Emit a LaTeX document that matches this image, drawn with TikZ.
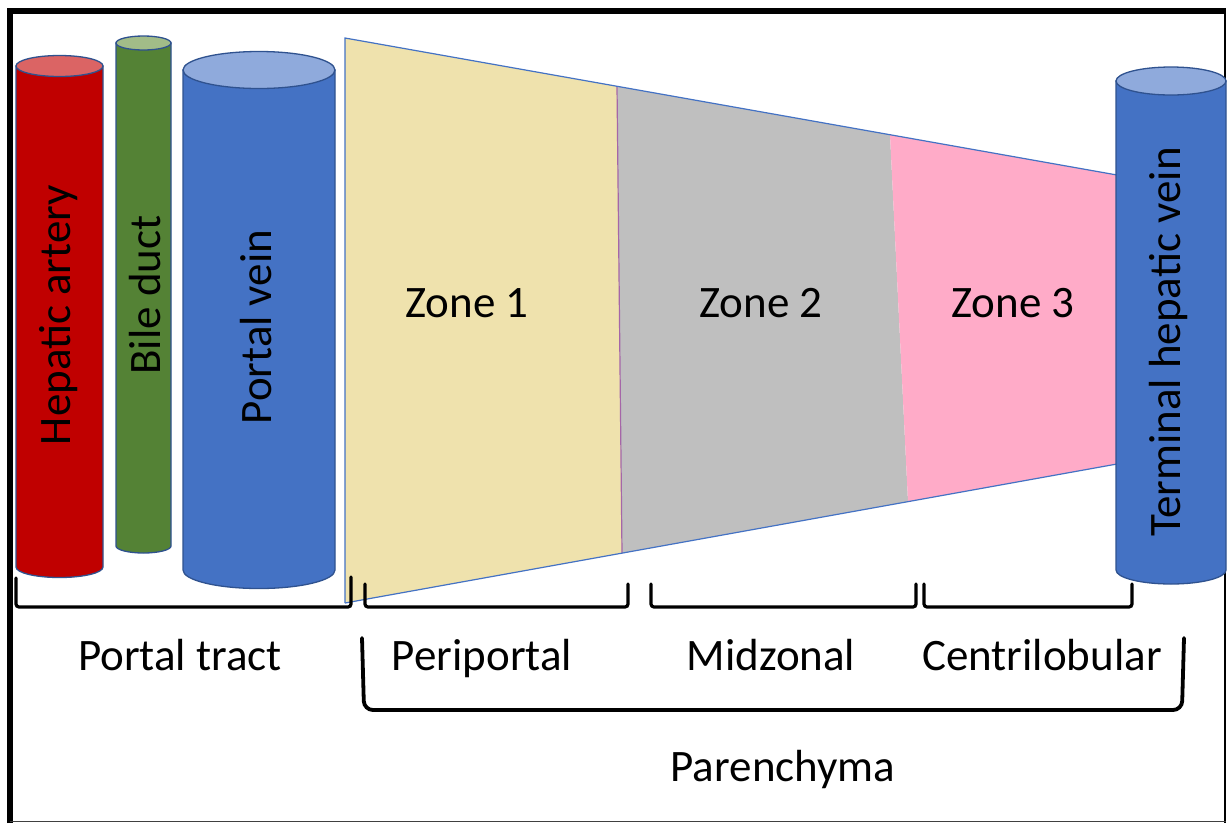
\documentclass[tikz,border=0pt]{standalone}
\usepackage{fontspec}
\setmainfont{Carlito}
\definecolor{cylline}{HTML}{2F528F}
\definecolor{artred}{HTML}{C00000}
\definecolor{arttop}{HTML}{DB6464}
\definecolor{bilegreen}{HTML}{548235}
\definecolor{biletop}{HTML}{A2BC88}
\definecolor{veinblue}{HTML}{4472C4}
\definecolor{veintop}{HTML}{8FAADC}
\definecolor{zoneA}{HTML}{EFE2AD}
\definecolor{zoneB}{HTML}{BFBFBF}
\definecolor{zoneC}{HTML}{FFABC8}
\definecolor{zoneedge}{HTML}{A566A8}
\newcommand\mycyl[7]{%
  \draw[cylbody, fill=#6] ({#1-#2},#3) -- ({#1-#2},#4)
     arc[start angle=180, end angle=0, x radius=#2, y radius=#5]
     -- ({#1+#2},#3) -- cycle;
  \draw[cylbody, fill=#7] (#1,#3) ellipse[x radius=#2, y radius=#5];
}
\begin{document}
\begin{tikzpicture}[x=1pt,y=-1pt,
  cylbody/.style={draw=cylline, line width=1.3pt},
  lbl/.style={font=\fontsize{45}{54}\selectfont, inner sep=0pt, text=black},
  blbl/.style={lbl, anchor=base},
  brk/.style={draw=black, line width=3.2pt, rounded corners=3pt, line cap=round},
  bigbrk/.style={draw=black, line width=3.8pt, rounded corners=9pt, line cap=round},
  trapedge/.style={draw=veinblue, line width=1.2pt}]
\useasboundingbox (0,0) rectangle (1228,823);
\fill[white] (0,0) rectangle (1228,823);
% frame
\draw[line width=6pt] (10,823) -- (10,11) -- (1226,11);
\draw[line width=2.2pt] (1225,8) -- (1225,823);
\draw[line width=1.5pt, black!75] (10,821.5) -- (1226,821.5);
% cylinders left
\mycyl{59.5}{43.5}{66}{567}{10.5}{artred}{arttop}
\mycyl{143.5}{27.5}{43}{546}{7}{bilegreen}{biletop}
\mycyl{259}{76}{70}{570}{18.5}{veinblue}{veintop}
% zones
\fill[zoneA] (345,38) -- (617,86.3) -- (622,553.1) -- (345,603) -- cycle;
\fill[zoneB] (617,86.3) -- (890,134.7) -- (908,501.6) -- (622,553.1) -- cycle;
\fill[zoneC] (890,134.7) -- (1117,175) -- (1117,464) -- (908,501.6) -- cycle;
\draw[zoneedge, line width=1.2pt] (617,86.3) -- (622,553.1);
\draw[trapedge] (345,603) -- (345,38) -- (1117,175);
\draw[trapedge] (345,603) -- (1117,464);
% right cylinder
\mycyl{1171}{55}{81}{570}{14}{veinblue}{veintop}
% labels
\node[lbl, rotate=90] (ha) at (59,315) {Hepatic artery};
\node[lbl, rotate=90] (bd) at (145,295) {Bile duct};
\node[lbl, rotate=90] (pv) at (256,327) {Portal vein};
\node[lbl, rotate=90] (thv) at (1168,342) {Terminal hepatic vein};
\node[blbl] (z1) at (467,317) {Zone 1};
\node[blbl] (z2) at (761,317) {Zone 2};
\node[blbl] (z3) at (1013,317) {Zone 3};
% small brackets
\draw[brk] (16,578) -- (16,607) -- (351,607) -- (351,577);
\draw[brk] (365,584) -- (365,607) -- (628,607) -- (628,584);
\draw[brk] (651,584) -- (651,607) -- (916,607) -- (916,584);
\draw[brk] (924,584) -- (924,607) -- (1132,607) -- (1132,584);
% big bracket
\draw[bigbrk] (362,638) .. controls (363,670) .. (364,710) -- (1182,710) .. controls (1183,670) .. (1184,638);
% bottom labels
\node[blbl] (pt) at (180,670) {Portal tract};
\node[blbl] (pp) at (482,670) {Periportal};
\node[blbl] (mz) at (771,670) {Midzonal};
\node[blbl] (cl) at (1042,670) {Centrilobular};
\node[blbl] (par) at (783,781) {Parenchyma};
\end{tikzpicture}
\end{document}
